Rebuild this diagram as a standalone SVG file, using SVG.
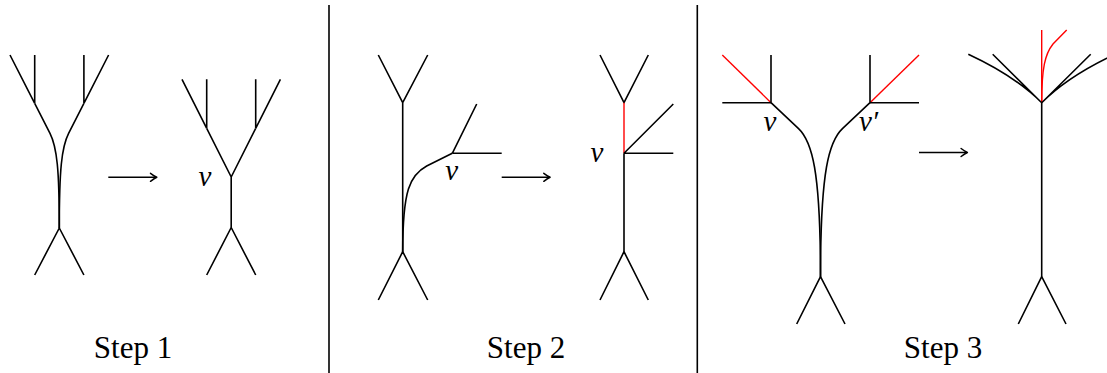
<svg xmlns="http://www.w3.org/2000/svg" width="1107" height="373" viewBox="0 0 1107 373">
<style>
.e{fill:none;stroke:#000;stroke-width:1.6;stroke-linecap:butt;stroke-linejoin:round}
.r{fill:none;stroke:#ff0000;stroke-width:1.4}
.lbl{font-family:'Liberation Serif','Times New Roman',Times,serif;font-size:31px;fill:#000}
.v{font-family:'Liberation Serif','Times New Roman',Times,serif;font-style:italic;font-size:29px;fill:#000}
</style>
<defs>
<marker id="tip" markerUnits="userSpaceOnUse" markerWidth="12" markerHeight="12" viewBox="-8 -6 10 12" refX="0" refY="0" orient="auto">
<path d="M-5.5,-4 Q-1.5,-1 0.8,0 Q-1.5,1 -5.5,4" fill="none" stroke="#000" stroke-width="1.5" stroke-linecap="round" stroke-linejoin="round"/>
</marker>
</defs>
<rect width="1107" height="373" fill="#fff"/>

<g id="connectors">
<line class="e" x1="329" y1="5" x2="329" y2="373"/>
<line class="e" x1="697.3" y1="5" x2="697.3" y2="373"/>
<line class="e" x1="108.3" y1="177.3" x2="156" y2="177.3" marker-end="url(#tip)"/>
<line class="e" x1="501.7" y1="177.3" x2="549.3" y2="177.3" marker-end="url(#tip)"/>
<line class="e" x1="919" y1="152.5" x2="966.6" y2="152.5" marker-end="url(#tip)"/>
</g>

<g id="step1-before">
<path class="e" d="M10,55 L34.7,103.3 M34.7,55 L34.7,103.3 M83.9,55 L83.9,103.3 M108.6,55 L83.9,103.3"/>
<path class="e" d="M34.7,103.3 L50,133.3 C57,147 59.3,170 59.3,228"/>
<path class="e" d="M83.9,103.3 L68.6,133.3 C61.6,147 59.3,170 59.3,228"/>
<path class="e" d="M34.7,275 L59.3,228 L83.9,275"/>
</g>

<g id="step1-after">
<path class="e" d="M182,79.3 L206.7,128.3 M206.7,79.3 L206.7,128.3 M255.7,79.3 L255.7,128.3 M280.4,79.3 L255.7,128.3"/>
<path class="e" d="M206.7,128.3 L231.2,177 L255.7,128.3 M231.2,177 L231.2,227.5"/>
<path class="e" d="M206.7,275 L231.2,227.5 L255.7,275"/>
<text class="v" x="205" y="186" text-anchor="middle">v</text>
</g>

<g id="step2-before">
<path class="e" d="M378.3,55 L402.7,102.7 L427.7,55 M402.7,102.7 L402.7,251.7"/>
<path class="e" d="M402.7,251.7 C402.7,190 410,175 426.7,166 L452.3,153.3"/>
<path class="e" d="M452.3,153.3 L476.7,104 M452.3,153.3 L501.7,153.3"/>
<path class="e" d="M378.3,300 L402.7,251.7 L427.7,300"/>
<text class="v" x="451.7" y="179.5" text-anchor="middle">v</text>
</g>

<g id="step2-after">
<path class="e" d="M600,55 L624,102.7 L648.3,55"/>
<path class="r" d="M624,102.7 L624,153.3" stroke-width="1.8"/>
<path class="e" d="M624,153.3 L624,251.7 M624,153.3 L673.3,104 M624,153.3 L673.3,153.3"/>
<path class="e" d="M600,300 L624,251.7 L648.3,300"/>
<text class="v" x="597" y="161.5" text-anchor="middle">v</text>
</g>

<g id="step3-before">
<path class="r" d="M722.3,55 L771,102.7"/>
<path class="e" d="M771,55 L771,102.7 M722.3,102.7 L771,102.7"/>
<path class="r" d="M870,102.7 L919,55"/>
<path class="e" d="M870,55 L870,102.7 M870,102.7 L919,102.7"/>
<path class="e" d="M771,102.7 L798.3,128.3 C812,141 820.5,170 820.5,276.7"/>
<path class="e" d="M870,102.7 L842.7,128.3 C829,141 820.5,170 820.5,276.7"/>
<path class="e" d="M796.7,324 L820.5,276.7 L845,324"/>
<text class="v" x="770" y="131" text-anchor="middle">v</text>
<text class="v" x="859" y="131">v′</text>
</g>

<g id="step3-after">
<path class="r" d="M1041.7,102.7 L1041.7,30"/>
<path class="r" d="M1041.7,102.7 C1041.7,68 1045,54 1053,44 L1066.7,30"/>
<path class="e" d="M1041.7,102.7 L992.7,54.3 M1041.7,102.7 Q1015,76 968.3,54.3"/>
<path class="e" d="M1041.7,102.7 L1090.7,54.3 M1041.7,102.7 Q1068.4,76 1115,54.3"/>
<path class="e" d="M1041.7,102.7 L1041.7,276.7"/>
<path class="e" d="M1018.3,324 L1041.7,276.7 L1066,324"/>
</g>

<g id="labels">
<text class="lbl" x="133" y="357.5" text-anchor="middle">Step 1</text>
<text class="lbl" x="526" y="357.5" text-anchor="middle">Step 2</text>
<text class="lbl" x="943" y="357.5" text-anchor="middle">Step 3</text>
</g>
</svg>
